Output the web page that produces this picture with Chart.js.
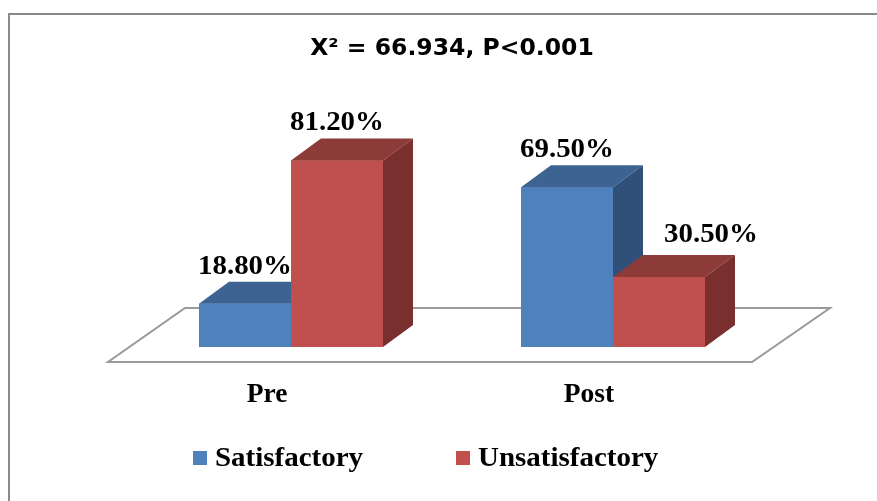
<!DOCTYPE html>
<html>
<head>
<meta charset="utf-8">
<script src="https://cdn.jsdelivr.net/npm/chart.js@4/dist/chart.umd.min.js"></script>
<style>
  html, body { margin: 0; padding: 0; background: #ffffff; }
  #wrap { width: 877px; height: 501px; position: relative; }
</style>
</head>
<body>
<div id="wrap"><canvas id="chart" width="877" height="501"></canvas></div>
<script>
// Survey results before and after the intervention
const categories = ['Pre', 'Post'];
const seriesNames = ['Satisfactory', 'Unsatisfactory'];
const satisfactory = [18.8, 69.5];
const unsatisfactory = [81.2, 30.5];
const titleText = 'X\u00B2 = 66.934, P<0.001';

// Face colours for the pseudo-3D columns: front, top, side
const palette = [
  { front: '#4F81BD', top: '#3C6391', side: '#30507A' },
  { front: '#C0504D', top: '#8D3B39', side: '#782F2D' }
];

// Depth of each column (px) and extra shifts for individual value labels
const DEPTH_X = 30, DEPTH_Y = -22;
const labelShift = { '1-1': 52 };

const serif = '"Liberation Serif", "Times New Roman", serif';

const fmt = v => v.toFixed(2) + '%';

// text drawn slightly wider than the font's natural width
function wideText(ctx, text, x, y, sx) {
  ctx.save();
  ctx.translate(x, y);
  ctx.scale(sx, 1);
  ctx.fillText(text, 0, 0);
  ctx.restore();
}

const bar3d = {
  id: 'bar3d',
  beforeDraw(chart) {
    const ctx = chart.ctx;
    ctx.save();
    ctx.fillStyle = '#ffffff';
    ctx.fillRect(0, 0, chart.width, chart.height);
    // outer frame (top and left edges)
    ctx.fillStyle = '#8a8a8a';
    ctx.fillRect(8, 13, chart.width - 8, 2);
    ctx.fillRect(8, 13, 2, chart.height - 13);
    ctx.restore();
  },
  beforeDatasetsDraw(chart) {
    // floor plane under the columns
    const a = chart.chartArea, ctx = chart.ctx;
    ctx.save();
    ctx.beginPath();
    ctx.moveTo(a.left - 22, a.bottom + 15);
    ctx.lineTo(a.right - 22, a.bottom + 15);
    ctx.lineTo(a.right + 56, a.bottom - 39);
    ctx.lineTo(a.left + 55, a.bottom - 39);
    ctx.closePath();
    ctx.fillStyle = '#ffffff';
    ctx.fill();
    ctx.lineWidth = 2;
    ctx.strokeStyle = '#9a9a9a';
    ctx.stroke();
    ctx.restore();
  },
  afterDatasetsDraw(chart) {
    // paint each column (front, top, side) left to right, so that
    // the right-hand column of a pair overlaps the one beside it
    const ctx = chart.ctx;
    const metas = chart.data.datasets.map((d, i) => chart.getDatasetMeta(i));
    chart.data.labels.forEach((lab, ci) => {
      metas.forEach((meta, di) => {
        const el = meta.data[ci];
        if (!el) return;
        const pal = palette[di];
        const p = el.getProps(['x', 'y', 'base', 'width'], true);
        const l = p.x - p.width / 2, r = p.x + p.width / 2;
        const t = p.y, b = p.base;
        ctx.save();
        ctx.fillStyle = pal.front;
        ctx.fillRect(l, t, r - l, b - t);
        ctx.beginPath();
        ctx.moveTo(l, t);
        ctx.lineTo(r, t);
        ctx.lineTo(r + DEPTH_X, t + DEPTH_Y);
        ctx.lineTo(l + DEPTH_X, t + DEPTH_Y);
        ctx.closePath();
        ctx.fillStyle = pal.top;
        ctx.fill();
        ctx.beginPath();
        ctx.moveTo(r, t);
        ctx.lineTo(r + DEPTH_X, t + DEPTH_Y);
        ctx.lineTo(r + DEPTH_X, b + DEPTH_Y);
        ctx.lineTo(r, b);
        ctx.closePath();
        ctx.fillStyle = pal.side;
        ctx.fill();
        ctx.restore();
      });
    });
  },
  afterDraw(chart) {
    const ctx = chart.ctx;
    ctx.save();
    // value labels above each column
    ctx.font = 'bold 27px ' + serif;
    ctx.fillStyle = '#000000';
    ctx.textAlign = 'center';
    ctx.textBaseline = 'middle';
    chart.data.datasets.forEach((ds, di) => {
      const meta = chart.getDatasetMeta(di);
      meta.data.forEach((el, i) => {
        const p = el.getProps(['x', 'y'], true);
        const shift = labelShift[di + '-' + i] || 0;
        const dy = di === 1 && i === 1 ? -42 : -37;
        wideText(ctx, fmt(ds.data[i]), p.x + shift, p.y + dy, 1.07);
      });
    });
    // legend
    const items = [{ x: 193 }, { x: 456 }];
    ctx.textAlign = 'left';
    ctx.textBaseline = 'alphabetic';
    ctx.font = 'bold 28px ' + serif;
    chart.data.datasets.forEach((ds, di) => {
      const it = items[di];
      ctx.fillStyle = ds.backgroundColor;
      ctx.fillRect(it.x, 451, 14, 14);
      ctx.fillStyle = '#000000';
      wideText(ctx, ds.label, it.x + 22, 466, 1.035);
    });
    ctx.restore();
  }
};

new Chart(document.getElementById('chart'), {
  type: 'bar',
  data: {
    labels: categories,
    datasets: [
      { label: seriesNames[0], data: satisfactory, backgroundColor: palette[0].front },
      { label: seriesNames[1], data: unsatisfactory, backgroundColor: palette[1].front }
    ]
  },
  options: {
    responsive: false,
    animation: false,
    devicePixelRatio: 1,
    categoryPercentage: 0.5714,
    barPercentage: 1,
    borderWidth: 0,
    layout: { padding: { left: 130, right: 103, top: 0, bottom: 59 } },
    plugins: {
      legend: { display: false },
      tooltip: { enabled: false },
      title: {
        display: true,
        text: titleText,
        color: '#000000',
        font: { family: '"DejaVu Sans", sans-serif', size: 23.5, weight: 'bold', lineHeight: 1.2 },
        padding: { top: 35, bottom: 54 }
      }
    },
    scales: {
      y: { display: false, min: 0, max: 100 },
      x: {
        grid: { display: false, drawTicks: false },
        border: { display: false },
        ticks: {
          color: '#000000',
          font: { family: serif, size: 27.5, weight: 'bold' },
          padding: 31,
          labelOffset: -24
        }
      }
    }
  },
  plugins: [bar3d]
});
</script>
</body>
</html>
